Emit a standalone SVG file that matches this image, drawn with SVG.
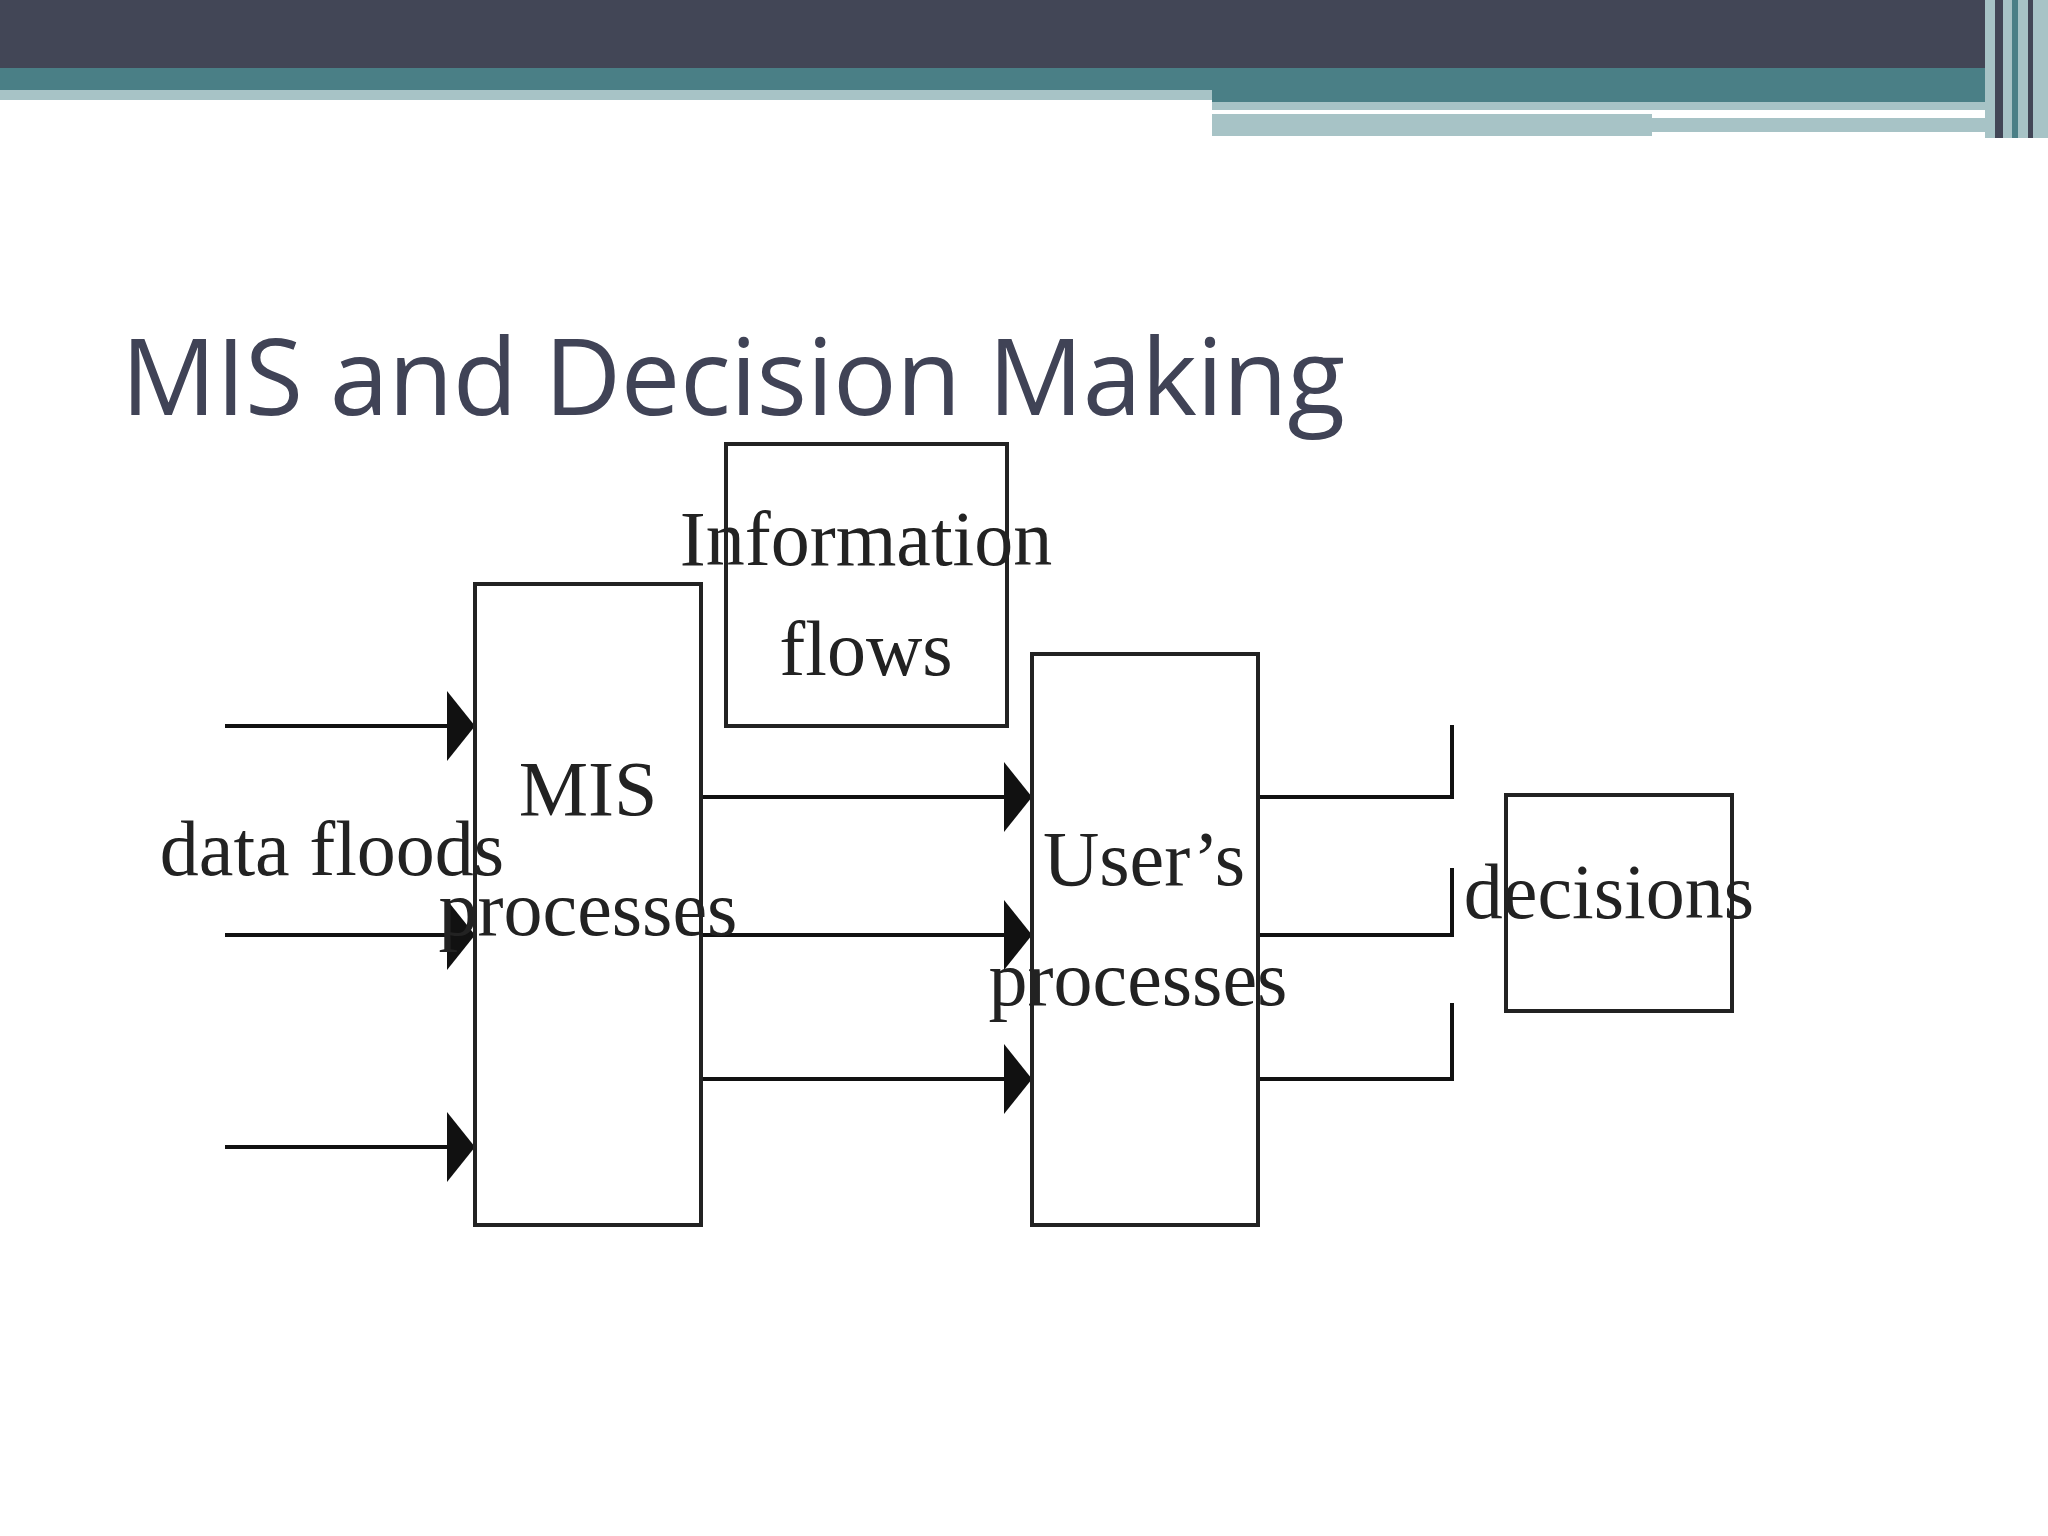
<svg xmlns="http://www.w3.org/2000/svg" width="2048" height="1536" viewBox="0 0 2048 1536">
<defs>
<style>
.box{fill:#fff;stroke:#222;stroke-width:4}
.ln{stroke:#111;stroke-width:4;fill:none}
.lb{font-family:"Liberation Serif",serif;font-size:78px;fill:#222;text-anchor:middle}
</style>
<marker id="ah" viewBox="0 0 10 10" refX="10" refY="5" markerWidth="28" markerHeight="70" markerUnits="userSpaceOnUse" orient="auto" preserveAspectRatio="none"><path d="M0,0 L10,5 L0,10 Z" fill="#111"/></marker>
</defs>
<rect width="2048" height="1536" fill="#fff"/>
<rect x="0" y="0" width="2048" height="68" fill="#424656"/>
<rect x="0" y="68" width="2048" height="22" fill="#4a7f86"/>
<rect x="0" y="90" width="1212" height="10" fill="#a7c3c6"/>
<rect x="1212" y="90" width="773" height="12" fill="#4a7f86"/>
<rect x="1212" y="102" width="773" height="8" fill="#a7c3c6"/>
<rect x="1212" y="114" width="440" height="22" fill="#a7c3c6"/>
<rect x="1652" y="118" width="333" height="14" fill="#a7c3c6"/>
<rect x="1985" y="0" width="63" height="138" fill="#a7c3c6"/>
<rect x="1995" y="0" width="8" height="138" fill="#424656"/>
<rect x="2012" y="0" width="6" height="138" fill="#4a7f86"/>
<rect x="2028" y="0" width="5" height="138" fill="#424656"/>
<text x="121" y="415" font-family="Open Sans, sans-serif" font-size="106" fill="#404356" textLength="1224">MIS and Decision Making</text>
<g id="connectors">
<line class="ln" x1="225" y1="726" x2="475" y2="726" marker-end="url(#ah)"/>
<line class="ln" x1="225" y1="935" x2="475" y2="935" marker-end="url(#ah)"/>
<line class="ln" x1="225" y1="1147" x2="475" y2="1147" marker-end="url(#ah)"/>
<line class="ln" x1="701" y1="797" x2="1032" y2="797" marker-end="url(#ah)"/>
<line class="ln" x1="701" y1="935" x2="1032" y2="935" marker-end="url(#ah)"/>
<line class="ln" x1="701" y1="1079" x2="1032" y2="1079" marker-end="url(#ah)"/>
<path class="ln" d="M1258,797 H1452 V725 M1258,935 H1452 V868 M1258,1079 H1452 V1003"/>
</g>
<g id="mis"><rect class="box" x="475" y="584" width="226" height="641"/>
<text class="lb" x="588" y="815">MIS</text><text class="lb" x="588" y="935">processes</text></g>
<g id="info"><rect class="box" x="726" y="444" width="281" height="282"/>
<text class="lb" x="866" y="565">Information</text><text class="lb" x="866" y="675">flows</text></g>
<g id="user"><rect class="box" x="1032" y="654" width="226" height="571"/>
<text class="lb" x="1144" y="885">User’s</text><text class="lb" x="1138" y="1005">processes</text></g>
<g id="decisions"><rect class="box" x="1506" y="795" width="226" height="216"/>
<text class="lb" x="1609" y="918">decisions</text></g>
<text class="lb" x="332" y="875">data floods</text>
</svg>
